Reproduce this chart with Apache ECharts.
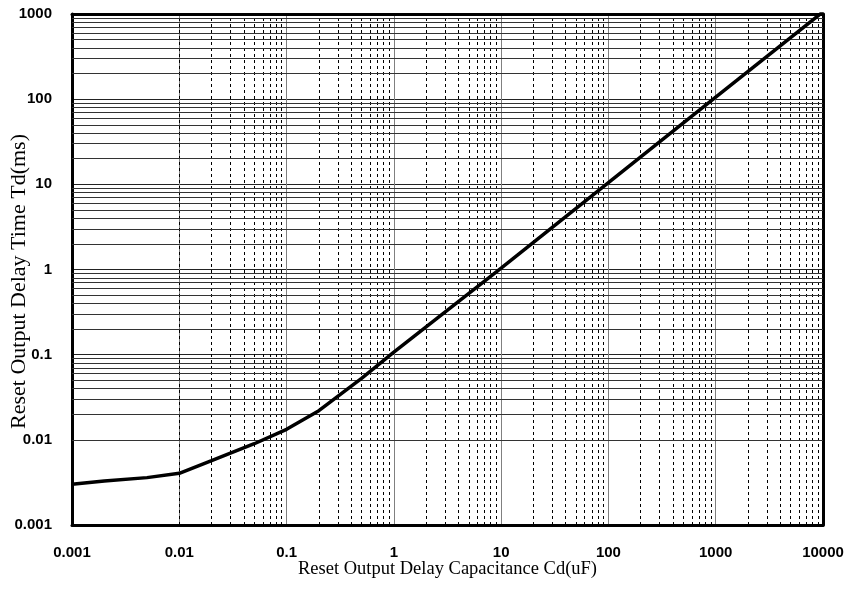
<!DOCTYPE html>
<html>
<head>
<meta charset="utf-8">
<script src="https://cdn.jsdelivr.net/npm/echarts@6/dist/echarts.min.js"></script>
<style>
html,body{margin:0;padding:0;background:#fff;}
#chart{width:852px;height:592px;}
</style>
</head>
<body>
<div id="chart"></div>
<script>
// Data
var capacitance = [0.001, 0.002, 0.005, 0.01, 0.02, 0.05, 0.1, 0.2, 0.5, 1, 10, 100, 1000, 10000];
var delayTime   = [0.003, 0.00328, 0.0036, 0.00405, 0.0057, 0.009, 0.0133, 0.022, 0.0528, 0.107, 1.04, 10.5, 106, 1060];
var xTickLabels = ['0.001', '0.01', '0.1', '1', '10', '100', '1000', '10000'];
var yTickLabels = ['0.001', '0.01', '0.1', '1', '10', '100', '1000'];
var xDecades = [0.001, 0.01, 0.1, 1, 10, 100, 1000];
var yDecades = [0.001, 0.01, 0.1, 1, 10, 100];
var minorSteps = [2, 3, 4, 5, 6, 7, 8, 9];
var xTitle = 'Reset Output Delay Capacitance Cd(uF)';
var yTitle = 'Reset Output Delay Time Td(ms)';

function labelFor(list, v) {
  var idx = Math.round(Math.log10(v) + 3);
  return list[idx] !== undefined ? list[idx] : '';
}

var seriesData = capacitance.map(function (c, i) { return [c, delayTime[i]]; });
var vMinor = [], hMinor = [];
xDecades.forEach(function (d) { minorSteps.forEach(function (m) { vMinor.push({ xAxis: +(d * m).toPrecision(3) }); }); });
yDecades.forEach(function (d) { minorSteps.forEach(function (m) { hMinor.push({ yAxis: +(d * m).toPrecision(3) }); }); });

var chart = echarts.init(document.getElementById('chart'));
var labelFont = { fontFamily: 'Liberation Sans', fontWeight: 'bold', fontSize: 15, color: '#000' };
chart.setOption({
  animation: false,
  backgroundColor: '#fff',
  grid: { left: 72, right: 29, top: 14, bottom: 67, show: false, containLabel: false, outerBoundsMode: 'none' },
  xAxis: [{
    type: 'log', logBase: 10, min: 0.001, max: 10000, splitNumber: 7,
    name: xTitle, nameLocation: 'middle', nameGap: 35, nameMoveOverlap: false,
    nameTextStyle: { fontFamily: 'Liberation Serif', fontSize: 18.5, color: '#000' },
    axisLine: { show: true, onZero: false, lineStyle: { color: '#000', width: 3 } },
    axisTick: { show: false },
    axisLabel: Object.assign({ margin: 20, formatter: function (v) { return labelFor(xTickLabels, v); } }, labelFont),
    splitLine: { show: true, lineStyle: { color: '#808080', width: 1 } },
    minorTick: { show: false }, minorSplitLine: { show: false }
  }, {
    type: 'log', logBase: 10, min: 0.001, max: 10000, position: 'top',
    axisLine: { show: true, onZero: false, lineStyle: { color: '#000', width: 3 } },
    axisTick: { show: false }, axisLabel: { show: false }, splitLine: { show: false }
  }],
  yAxis: [{
    type: 'log', logBase: 10, min: 0.001, max: 1000, splitNumber: 6,
    name: yTitle, nameLocation: 'middle', nameGap: 42, nameRotate: 90, nameMoveOverlap: false,
    nameTextStyle: { fontFamily: 'Liberation Serif', fontSize: 22, color: '#000', padding: [0, 24, 0, 0] },
    axisLine: { show: true, onZero: false, lineStyle: { color: '#000', width: 3 } },
    axisTick: { show: false },
    axisLabel: Object.assign({ margin: 20, formatter: function (v) { return labelFor(yTickLabels, v); } }, labelFont),
    splitLine: { show: true, lineStyle: { color: '#222', width: 1 } },
    minorTick: { show: false }, minorSplitLine: { show: false }
  }, {
    type: 'log', logBase: 10, min: 0.001, max: 1000, position: 'right',
    axisLine: { show: true, onZero: false, lineStyle: { color: '#000', width: 3 } },
    axisTick: { show: false }, axisLabel: { show: false }, splitLine: { show: false }
  }],
  series: [{
    type: 'line', data: [], z: 1, silent: true,
    markLine: {
      silent: true, symbol: 'none', label: { show: false }, animation: false,
      lineStyle: { color: '#000', width: 1, type: [3, 3] },
      data: vMinor
    }
  }, {
    type: 'line', data: [], z: 1, silent: true,
    markLine: {
      silent: true, symbol: 'none', label: { show: false }, animation: false,
      lineStyle: { color: '#333', width: 1, type: 'solid' },
      data: hMinor
    }
  }, {
    type: 'line', data: seriesData, z: 5, smooth: false, showSymbol: false,
    lineStyle: { color: '#000', width: 3.5 }, itemStyle: { color: '#000' }
  }]
});
</script>
</body>
</html>
